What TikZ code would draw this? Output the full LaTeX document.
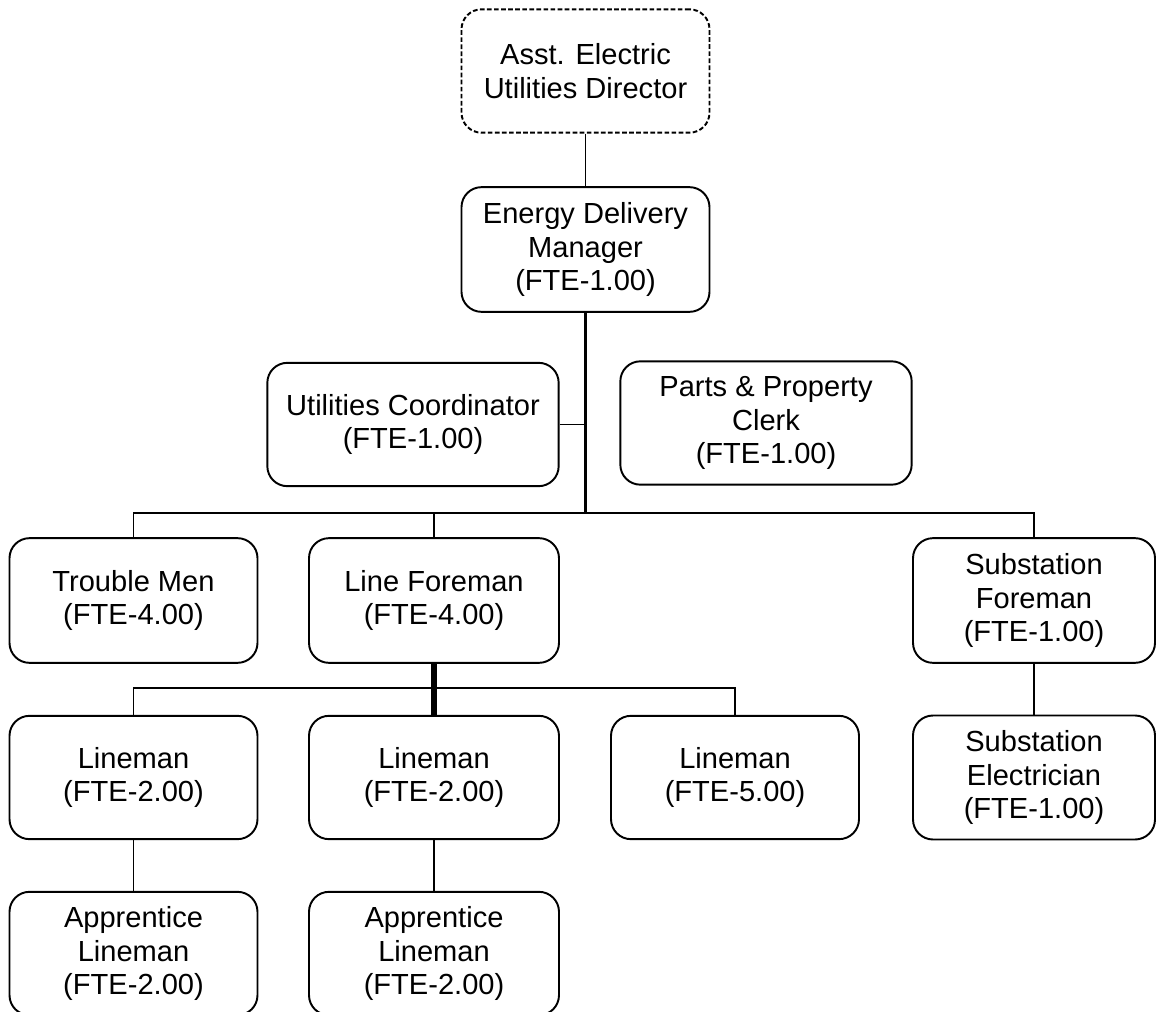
\documentclass[tikz,border=0pt]{standalone}
\usepackage{fontspec}
\setmainfont{Liberation Sans}
\begin{document}
\begin{tikzpicture}[x=0.75pt,y=-0.75pt,
  box/.style={draw, line width=1.45pt, rounded corners=15pt, align=center,
    inner sep=0pt, font=\fontsize{21.8}{25}\selectfont},
  boxA/.style={box, minimum width=186pt, minimum height=92.5pt},
  boxW/.style={box, minimum width=218.5pt, minimum height=92.5pt},
  boxS/.style={box, minimum width=181.5pt, minimum height=93pt},
  link/.style={line width=1.15pt},
  trunk/.style={line width=2.2pt},
  heavytrunk/.style={line width=3.9pt}]
\useasboundingbox (0,0) rectangle (1156,1012);
\clip (0,0) rectangle (1156,1012);

% top of the chart
\node[boxA, dashed, dash pattern=on 3.5pt off 1.8pt] (asst) at (585.5,71) {Asst. Electric\\Utilities Director};
\node[boxA, minimum height=93.5pt] (edm) at (585.5,249.5) {Energy Delivery\\Manager\\(FTE-1.00)};

% staff positions
\node[boxW] (uc) at (413,424.5) {Utilities Coordinator\\(FTE-1.00)};
\node[boxW] (ppc) at (766,423) {Parts \& Property\\Clerk\\(FTE-1.00)};

% second level
\node[boxA, minimum height=93.5pt] (tm) at (133.5,600.5) {Trouble Men\\(FTE-4.00)};
\node[boxA, minimum width=187.5pt, minimum height=93.5pt] (lf) at (434,600.5) {Line Foreman\\(FTE-4.00)};
\node[boxS, minimum height=93.5pt] (sf) at (1034,600.5) {Substation\\Foreman\\(FTE-1.00)};

% third level
\node[boxA] (l1) at (133.5,777.5) {Lineman\\(FTE-2.00)};
\node[boxA, minimum width=187.5pt] (l2) at (434,777.5) {Lineman\\(FTE-2.00)};
\node[boxA] (l3) at (735,777.5) {Lineman\\(FTE-5.00)};
\node[boxS] (se) at (1034,777.5) {Substation\\Electrician\\(FTE-1.00)};

% apprentices
\node[boxA] (a1) at (133.5,953.5) {Apprentice\\Lineman\\(FTE-2.00)};
\node[boxA, minimum width=187.5pt] (a2) at (434,953.5) {Apprentice\\Lineman\\(FTE-2.00)};

% bus junctions
\coordinate (bus1) at (585.5,513);
\coordinate (bus2) at (434,688);

% connectors
\draw[link] (asst.south) -- (edm.north);
\draw[link] (uc.east) -- (uc.east -| bus1);
\draw[link] (tm.north) |- (bus1);
\draw[link] (sf.north) |- (bus1);
\draw[link] (lf.north) -- (lf.north |- bus1);
\draw[trunk] (edm.south) -- (bus1);

\draw[link] (l1.north) |- (l3.north |- bus2) -- (l3.north);
\draw[heavytrunk] (lf.south) -- (l2.north);

\draw[link] (l1.south) -- (a1.north);
\draw[link] (l2.south) -- (a2.north);
\draw[link] (sf.south) -- (se.north);
\end{tikzpicture}
\end{document}
